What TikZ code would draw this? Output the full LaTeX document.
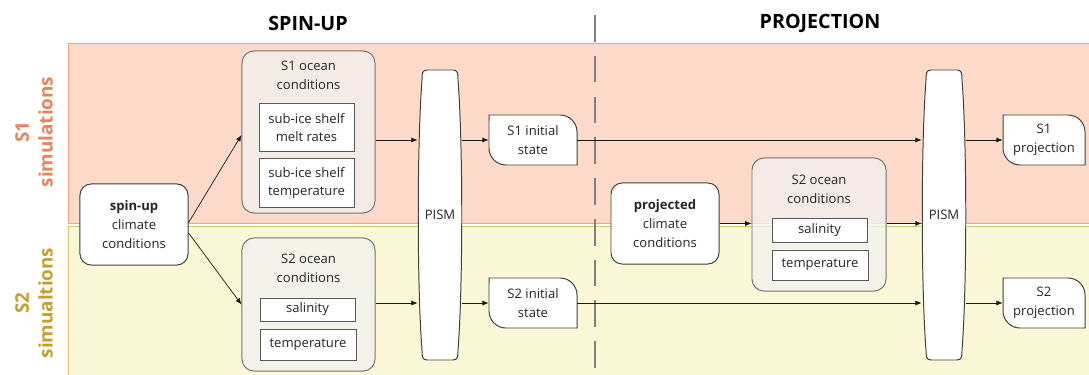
\documentclass[tikz,border=0pt]{standalone}
\usepackage{fontspec}
\setmainfont{Open Sans}
\usetikzlibrary{arrows.meta}

\definecolor{bandone}{HTML}{FDDACA}
\definecolor{bandonedraw}{HTML}{F2A283}
\definecolor{bandtwo}{HTML}{FAF8D6}
\definecolor{bandtwodraw}{HTML}{D6C474}
\definecolor{labone}{HTML}{E8845B}
\definecolor{labtwo}{HTML}{C79E2C}
\definecolor{boxline}{HTML}{3F3F3F}

\tikzset{
  every node/.style={font=\fontsize{9.3}{13.4}\selectfont, text=black!85, inner sep=0pt, align=center},
  climatebox/.style={draw=boxline, fill=white, rounded corners=0.28cm, line width=0.7pt, minimum width=2.7cm, minimum height=2.025cm},
  oceangroup/.style={draw=black!55, fill=black!5, fill opacity=0.75, rounded corners=0.3cm, line width=0.7pt, minimum width=3.325cm},
  varbox/.style={draw=black!65, fill=white, line width=0.7pt, minimum width=2.375cm},
  stateline/.style={draw=boxline, fill=white, line width=0.7pt},
  flow/.style={-{Latex[length=4.5pt,width=3.6pt]}, line width=0.5pt, black!90},
  phase/.style={font=\fontsize{14}{17}\selectfont\bfseries, text=black},
  simlabel/.style={font=\fontsize{13.4}{17}\selectfont\bfseries, rotate=90},
}

\begin{document}
\begin{tikzpicture}[x=0.025cm,y=0.025cm]
        \useasboundingbox (0,0) rectangle (1089,374);

        % simulation bands
        \draw[fill=bandone, draw=bandonedraw, line width=0.7pt] (68,151) rectangle (1100,331);
        \draw[fill=bandtwo, draw=bandtwodraw, line width=0.7pt] (68,-10) rectangle (1100,148);

        % phases
        \node[phase] (spinup title) at (308,351) {SPIN-UP};
        \node[phase] (proj title) at (820,351) {PROJECTION};
        \draw[black!50, line width=1.6pt, dash pattern=on 19pt off 10pt] (595,359) -- (595,0);

        % simulation labels
        \node[simlabel, text=labone] (s1 label) at (34,242) {S1\\simulations};
        \node[simlabel, text=labtwo] (s2 label) at (34,71) {S2\\simualtions};

        % spin-up climate
        \node[climatebox] (spinup) at (134,149.5) {\textbf{spin-up}\\climate\\conditions};

        % S1 ocean conditions
        \node[oceangroup, minimum height=4.05cm] (s1ocean) at (308.5,242) {};
        \node (s1ocean title) at (308.5,298.5) {S1 ocean\\conditions};
        \node[varbox, minimum height=1.175cm] (melt) at (306.5,246.5) {sub-ice shelf\\melt rates};
        \node[varbox, minimum height=1.2cm] (s1temp) at (306.5,191) {sub-ice shelf\\temperature};

        % S2 ocean conditions
        \node[oceangroup, minimum height=3.325cm] (s2ocean) at (308.5,69.5) {};
        \node (s2ocean title) at (308.5,105.5) {S2 ocean\\conditions};
        \node[varbox, minimum height=0.575cm] (s2sal) at (307.5,64.5) {salinity};
        \node[varbox, minimum width=2.4cm, minimum height=0.775cm] (s2temp) at (308,29.5) {temperature};

        % PISM
        \foreach \cx/\nm in {440/pism1, 944/pism2} {
          \draw[stateline] (\cx-13,304) -- (\cx+13,304)
            .. controls (\cx+18,304) and (\cx+18,300) .. (\cx+18,294)
            .. controls (\cx+23,230) and (\cx+23,88) .. (\cx+18,24)
            .. controls (\cx+18,18) and (\cx+18,14) .. (\cx+13,14)
            -- (\cx-13,14)
            .. controls (\cx-18,14) and (\cx-18,18) .. (\cx-18,24)
            .. controls (\cx-23,88) and (\cx-23,230) .. (\cx-18,294)
            .. controls (\cx-18,300) and (\cx-18,304) .. (\cx-13,304) -- cycle;
          \node[minimum width=1.1cm, minimum height=7.25cm] (\nm) at (\cx,159) {PISM};
        }

        % states
        \foreach \cx/\cy/\hw/\nm/\txt in {533/234/44/s1init/{S1 initial\\state}, 533/71/44/s2init/{S2 initial\\state},
            1044/234/41/s1proj/{S1\\projection}, 1044/71/41/s2proj/{S2\\projection}} {
          \draw[stateline] (\cx-\hw,\cy+25) -- (\cx+\hw-17,\cy+25)
            arc[start angle=90, end angle=0, radius=0.425cm] -- (\cx+\hw,\cy-25)
            -- (\cx-\hw+17,\cy-25) arc[start angle=270, end angle=180, radius=0.425cm] -- cycle;
          \node[minimum width={2*\hw*0.025cm}, minimum height=1.25cm] (\nm) at (\cx,\cy) {\txt};
        }

        % projected climate
        \node[climatebox] (projected) at (665,150.5) {\textbf{projected}\\climate\\conditions};
        \node[oceangroup, minimum width=3.35cm, minimum height=3.325cm] (projocean) at (819,149.5) {};
        \node (projocean title) at (819,185) {S2 ocean\\conditions};
        \node[varbox, minimum height=0.6cm] (projsal) at (819.5,144) {salinity};
        \node[varbox, minimum width=2.4cm, minimum height=0.75cm] (projtemp) at (820,109) {temperature};

        % spin-up flow
        \draw[flow] ([yshift=0.045cm]spinup.east) -- ([yshift=-0.075cm]s1ocean.west);
        \draw[flow] ([yshift=-0.21cm]spinup.east) -- (s2ocean.west);
        \draw[flow] (s1ocean.east |- s1init) -- (pism1.west |- s1init);
        \draw[flow] (s2ocean.east |- s2init) -- (pism1.west |- s2init);
        \draw[flow] (pism1.east |- s1init) -- (s1init.west);
        \draw[flow] (pism1.east |- s2init) -- (s2init.west);

        % projection flow
        \draw[flow] (s1init.east) -- (pism2.west |- s1init);
        \draw[flow] (s2init.east) -- (pism2.west |- s2init);
        \draw[flow] (projected.east) -- (projected.east -| projocean.west);
        \draw[flow] (projocean.east |- projected) -- (pism2.west |- projected);
        \draw[flow] (pism2.east |- s1proj) -- (s1proj.west);
        \draw[flow] (pism2.east |- s2proj) -- (s2proj.west);
\end{tikzpicture}
\end{document}
